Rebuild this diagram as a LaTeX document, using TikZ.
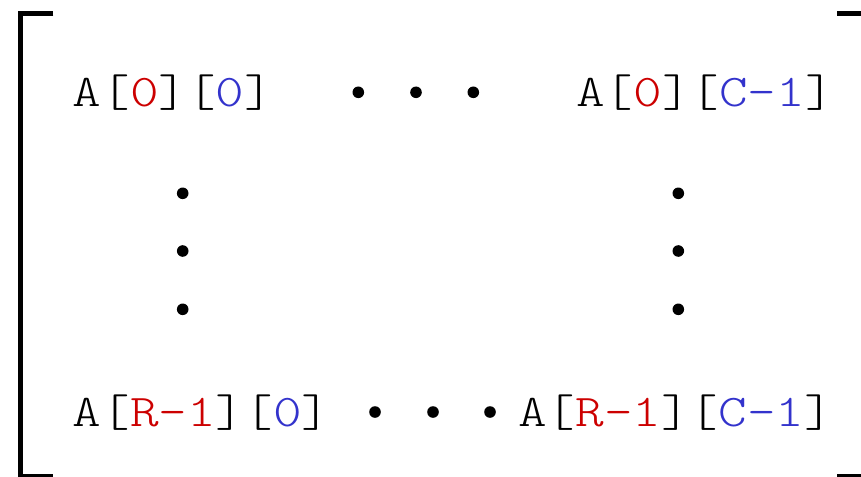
\documentclass[tikz,border=0pt]{standalone}
\usepackage{fontspec}
\newfontfamily\courlike[FakeStretch=1.2]{Latin Modern Mono Light}
\definecolor{idxred}{RGB}{204,0,0}
\definecolor{idxblue}{RGB}{51,51,204}
\newcommand{\rI}[1]{\textcolor{idxred}{#1}}
\newcommand{\bI}[1]{\textcolor{idxblue}{#1}}
\tikzset{
  lbl/.style={anchor=base west, inner sep=0pt, outer sep=0pt,
    font=\courlike\fontsize{45.4}{50}\selectfont},
  dotc/.style={circle, fill=black, inner sep=0pt, minimum size=11.6pt},
  brk/.style={line width=5pt, line join=miter, line cap=butt}
}
\begin{document}
\begin{tikzpicture}[x=1pt,y=-1pt]
\useasboundingbox (0,0) rectangle (861,476);
\clip (0,0) rectangle (861,476);
% brackets
\coordinate (lt) at (53.3,13.3);
\coordinate (ltc) at (20.8,13.3);
\coordinate (lbc) at (20.8,476.5);
\coordinate (lb) at (53.3,476.5);
\draw[brk] (lt) -- (ltc) -- (lbc) -- (lb);
\coordinate (rt) at (837,13.3);
\coordinate (rtc) at (869.5,13.3);
\coordinate (rbc) at (869.5,476.5);
\coordinate (rb) at (837,476.5);
\draw[brk] (rt) -- (rtc) -- (rbc) -- (rb);
% labels
\node[lbl] (a00) at (72.9,106.7) {A[\rI{0}][\bI{0}]};
\node[lbl] (a0c) at (576.2,106.7) {A[\rI{0}][\bI{C-1}]};
\node[lbl] (ar0) at (72.9,426.7) {A[\rI{R-1}][\bI{0}]};
\node[lbl] (arc) at (518.2,426.7) {A[\rI{R-1}][\bI{C-1}]};
% horizontal dots
\node[dotc] (h1) at (358.3,92.3) {};
\node[dotc] (h2) at (416,92.3) {};
\node[dotc] (h3) at (473.3,92.3) {};
\node[dotc] (h4) at (375,412) {};
\node[dotc] (h5) at (433,412) {};
\node[dotc] (h6) at (490,412) {};
% vertical dots
\node[dotc] (v1) at (182.7,193.3) {};
\node[dotc] (v2) at (182.7,251) {};
\node[dotc] (v3) at (182.7,309.3) {};
\node[dotc] (v4) at (678.3,193.3) {};
\node[dotc] (v5) at (678.3,251) {};
\node[dotc] (v6) at (678.3,309.3) {};
\end{tikzpicture}
\end{document}
